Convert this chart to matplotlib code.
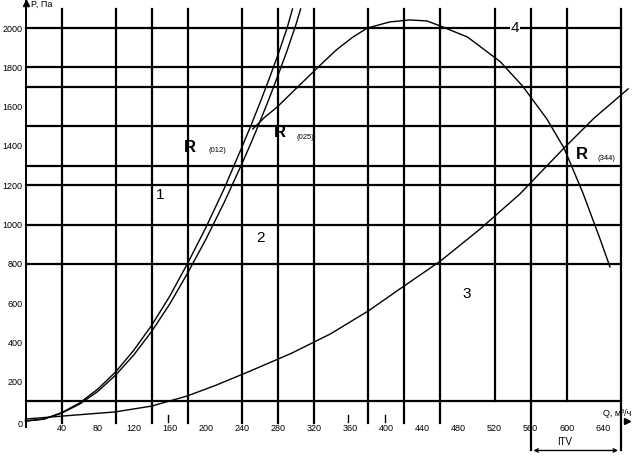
import matplotlib
matplotlib.use("Agg")
import matplotlib.pyplot as plt

plt.rcParams['font.family'] = ['Liberation Sans', 'DejaVu Sans']

# grid of the original drawing (non uniform)
grid_x = [40, 100, 140, 180, 240, 280, 320, 380, 420, 460, 520, 560, 600, 660]
grid_y = [100, 800, 1000, 1200, 1300, 1500, 1700, 1800, 2000]

x_ticks = [40, 80, 120, 160, 200, 240, 280, 320, 360, 400, 440, 480, 520, 560, 600, 640]
y_ticks = [0, 200, 400, 600, 800, 1000, 1200, 1400, 1600, 1800, 2000]

# curves (Q, P)
q1 = [0, 20, 40, 60, 80, 100, 120, 140, 160, 180, 200, 220, 240, 250, 260, 270, 280, 290, 296]
p1 = [0, 10, 42, 92, 162, 250, 360, 488, 636, 805, 985, 1180, 1395, 1505, 1620, 1740, 1865, 2000, 2097]

q2 = [0, 20, 40, 60, 80, 100, 120, 140, 160, 180, 200, 220, 240, 250, 260, 270, 280, 290, 300, 305]
p2 = [0, 9, 40, 86, 150, 234, 336, 457, 596, 755, 925, 1110, 1310, 1415, 1525, 1640, 1760, 1885, 2020, 2097]

q3 = [0, 27, 60, 99, 140, 179, 210, 249, 295, 338, 380, 415, 460, 504, 548, 597, 630, 668]
p3 = [10, 20, 32, 46, 76, 127, 180, 254, 345, 443, 560, 672, 814, 977, 1155, 1389, 1540, 1690]

q4 = [252, 265, 279, 304, 326, 345, 363, 379, 404, 426, 445, 460, 490, 526, 551, 578, 597, 618, 637, 648]
p4 = [1486, 1545, 1598, 1710, 1808, 1890, 1954, 2000, 2031, 2041, 2036, 2010, 1954, 1830, 1705, 1537, 1389, 1160, 926, 784]

fig = plt.figure(figsize=(6.33, 4.60), dpi=100)
ax = fig.add_axes([0, 0, 1, 1])
ax.set_xlim(-28.3, 673.5)
ax.set_ylim(-193.4, 2147.6)
ax.axis('off')

# horizontal grid lines
for y in grid_y:
    ax.plot([0, 660], [y, y], color='black', lw=1.6)

# vertical grid lines, some run down to the ITV bracket
for x in grid_x:
    if x in (560, 660):
        bottom = -150
    elif x in (520, 600):
        bottom = 100
    else:
        bottom = -10
    ax.plot([x, x], [bottom, 2097], color='black', lw=1.6)

# small ticks at a few labels
for x in [158, 357, 398]:
    ax.plot([x, x], [-5, 30], color='black', lw=1)

# y axis with arrow
ax.plot([0, 0], [-30, 2135], color='black', lw=1.4)
ax.plot(0, 2125, marker='^', color='black', ms=4)
ax.text(6, 2125, 'P, Па', fontsize=6.5, ha='left', va='center')

# x axis arrow and label
ax.plot(667, 0, marker='>', color='black', ms=4)
ax.text(640, 45, 'Q, м³/ч', fontsize=6.5, ha='left', va='center')

for x in x_ticks:
    ax.text(x, -32, str(x), fontsize=6.5, ha='center', va='center')
for y in y_ticks:
    yp = -12 if y == 0 else y
    ax.text(-3, yp, str(y), fontsize=6.5, ha='right', va='center')

# curves
ax.plot(q1, p1, color='black', lw=1)
ax.plot(q2, p2, color='black', lw=1)
ax.plot(q3, p3, color='black', lw=1)
ax.plot(q4, p4, color='black', lw=1)

# curve numbers
ax.text(149, 1155, '1', fontsize=11, ha='center', va='center')
ax.text(260, 936, '2', fontsize=11, ha='center', va='center')
ax.text(489, 651, '3', fontsize=11, ha='center', va='center')
ax.text(543, 2005, '4', fontsize=11, ha='center', va='center',
        bbox=dict(facecolor='white', edgecolor='none', pad=0.5))

# operating points
ax.text(182, 1399, 'R', fontsize=12, fontweight='bold', ha='center', va='center')
ax.text(213, 1384, '(012)', fontsize=5.5, ha='center', va='center')
ax.text(282, 1471, 'R', fontsize=12, fontweight='bold', ha='center', va='center')
ax.text(310, 1450, '(025)', fontsize=5.5, ha='center', va='center')
ax.text(617, 1359, 'R', fontsize=12, fontweight='bold', ha='center', va='center')
ax.text(644, 1343, '(344)', fontsize=5.5, ha='center', va='center')

# ITV bracket
ax.annotate('', xy=(560, -150), xytext=(660, -150),
            arrowprops=dict(arrowstyle='<->', color='black', lw=1, mutation_scale=6))
ax.text(598, -102, 'ITV', fontsize=7, ha='center', va='center')

fig.savefig('out.png', dpi=100)
